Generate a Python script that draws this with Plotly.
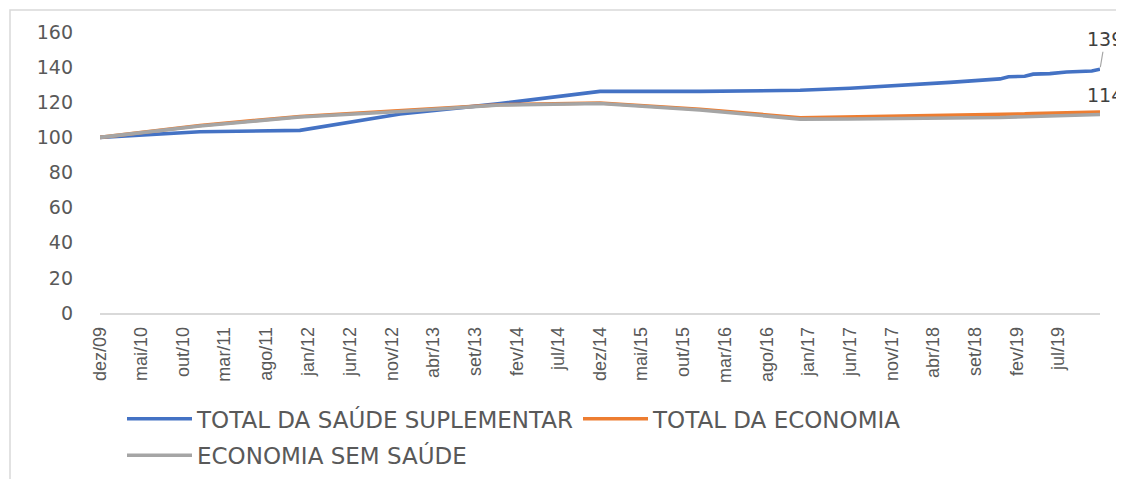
import plotly.graph_objects as go
import pandas as pd

# ---- data ----
dates = ["2009-12-01", "2010-12-01", "2011-12-01", "2012-12-01", "2013-12-01",
         "2014-12-01", "2015-12-01", "2016-12-01", "2017-06-01", "2017-12-01",
         "2018-06-01", "2018-09-01", "2018-12-01", "2019-01-01", "2019-03-01",
         "2019-04-01", "2019-06-01", "2019-08-01", "2019-10-01", "2019-11-01",
         "2019-12-01"]

saude_suplementar = [100.0, 103.2, 104.0, 113.3, 119.2, 126.2, 126.2, 126.8, 128.0, 129.5,
                     131.3, 132.3, 133.3, 134.5, 134.8, 136.0, 136.3, 137.2, 137.5, 137.8, 138.8]
total_economia = [100.0, 106.8, 111.9, 115.0, 118.6, 119.6, 116.0, 111.2, 111.6, 112.0,
                  112.5, 112.8, 113.0, 113.2, 113.4, 113.6, 113.8, 114.0, 114.3, 114.5, 114.4]
economia_sem_saude = [100.0, 106.5, 111.6, 114.7, 118.4, 119.3, 115.6, 110.4, 110.5, 110.6,
                      110.9, 111.1, 111.3, 111.5, 111.7, 111.9, 112.1, 112.4, 112.6, 112.8, 113.0]

series_names = ["TOTAL DA SAÚDE SUPLEMENTAR", "TOTAL DA ECONOMIA", "ECONOMIA SEM SAÚDE"]
series_colors = ["#4472C4", "#ED7D31", "#A5A5A5"]

tick_labels = ["dez/09", "mai/10", "out/10", "mar/11", "ago/11", "jan/12", "jun/12", "nov/12",
               "abr/13", "set/13", "fev/14", "jul/14", "dez/14", "mai/15", "out/15", "mar/16",
               "ago/16", "jan/17", "jun/17", "nov/17", "abr/18", "set/18", "fev/19", "jul/19"]
tick_vals = pd.date_range(start="2009-12-01", periods=len(tick_labels), freq="5MS")

y_ticks = [0, 20, 40, 60, 80, 100, 120, 140, 160]

TXT = "#595959"
fig = go.Figure()

values = [saude_suplementar, total_economia, economia_sem_saude]
legends = ["legend", "legend", "legend2"]
for name, vals, col, lg in zip(series_names, values, series_colors, legends):
    fig.add_trace(go.Scatter(x=dates, y=vals, mode="lines", name=name,
                             line=dict(color=col, width=3.6), legend=lg))

# end labels
fig.add_annotation(x=dates[-1], y=saude_suplementar[-1], text=f"{saude_suplementar[-1]:.0f}",
                   showarrow=True, arrowhead=0, arrowwidth=1.2, arrowcolor="#A6A6A6",
                   ax=5, ay=-30, standoff=2,
                   font=dict(family="DejaVu Sans", size=19, color="#404040"),
                   xanchor="center", yanchor="middle")
fig.add_annotation(x=dates[-1], y=total_economia[-1], text=f"{total_economia[-1]:.0f}",
                   showarrow=True, arrowcolor="rgba(0,0,0,0)", ax=5, ay=-17,
                   font=dict(family="DejaVu Sans", size=19, color="#404040"),
                   xanchor="center", yanchor="middle")

# outer border
fig.add_shape(type="rect", xref="paper", yref="paper", x0=-0.09, x1=1.017, y0=-0.7, y1=1.078,
              line=dict(color="#D9D9D9", width=1.5), fillcolor="rgba(0,0,0,0)", layer="below")

fig.update_layout(
    width=1124, height=479,
    margin=dict(l=92, r=32, t=24, b=174, autoexpand=False),
    paper_bgcolor="white", plot_bgcolor="white",
    font=dict(family="DejaVu Sans", color=TXT),
    xaxis=dict(type="date", range=["2009-12-01", "2019-12-01"],
               tickvals=tick_vals, ticktext=tick_labels, tickangle=-90,
               tickfont=dict(family="Liberation Sans", size=18, color=TXT),
               ticklabelstandoff=5,
               showgrid=False, zeroline=False, showline=True, linecolor="#D9D9D9",
               linewidth=1.5, ticks="", automargin=False),
    yaxis=dict(range=[0, 160], tickvals=y_ticks, showgrid=False, zeroline=False,
               showline=False, ticks="", ticklabelstandoff=26, automargin=False,
               tickfont=dict(family="DejaVu Sans", size=19, color=TXT)),
    legend=dict(orientation="h", x=0.022, y=-0.30, xanchor="left", yanchor="top",
                entrywidth=376, entrywidthmode="pixels", itemwidth=65,
                font=dict(family="DejaVu Sans", size=23, color=TXT), bgcolor="rgba(0,0,0,0)"),
    legend2=dict(orientation="h", x=0.022, y=-0.43, xanchor="left", yanchor="top",
                 itemwidth=65,
                 font=dict(family="DejaVu Sans", size=23, color=TXT), bgcolor="rgba(0,0,0,0)"),
)

fig.write_html("out.html")
